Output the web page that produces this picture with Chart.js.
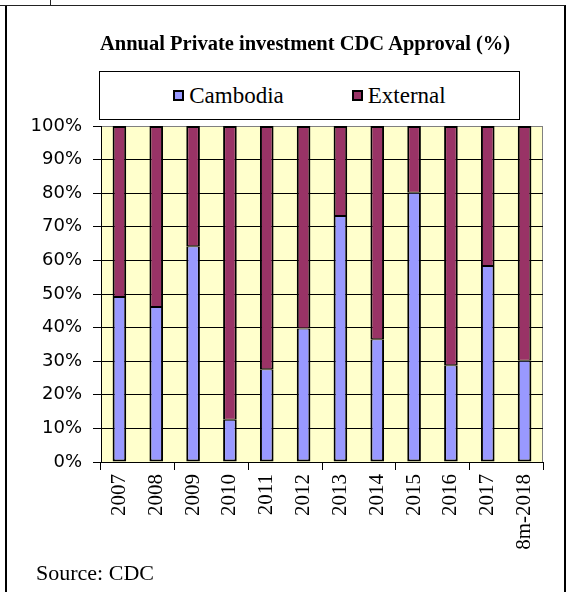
<!DOCTYPE html>
<html>
<head>
<meta charset="utf-8">
<title>Annual Private investment CDC Approval</title>
<script src="https://cdn.jsdelivr.net/npm/chart.js@4.4.0/dist/chart.umd.min.js"></script>
<style>
  html, body { margin: 0; padding: 0; background: #fff; }
  body { position: relative; width: 570px; height: 592px; overflow: hidden; font-family: "Liberation Serif", "Times New Roman", serif; color: #000; }
  .frame { position: absolute; left: 5px; top: 5px; width: 557px; height: 620px; border-top: 1px solid #222; border-left: 2px solid #000; border-right: 2px solid #000; }
  .top-line { position: absolute; left: 0; top: 5px; width: 6px; border-top: 1px solid #222; }
  .notch { position: absolute; left: 50px; top: 0; height: 5px; border-left: 1px solid #222; }
  .chart-wrap { position: absolute; left: 0; top: 0; width: 570px; height: 592px; }
  .title { position: absolute; left: 100px; width: 408px; top: 31px; text-align: center; font-size: 20.5px; line-height: 24px; font-weight: bold; white-space: nowrap; }
  .legend { position: absolute; left: 99px; top: 71px; width: 421px; height: 49px; box-sizing: border-box; border: 1px solid #000; background: #fff; display: flex; align-items: center; justify-content: center; font-size: 23px; }
  .legend .item { display: flex; align-items: center; }
  .legend .item + .item { margin-left: 68px; }
  .legend .swatch { width: 11px; height: 11px; box-sizing: border-box; border: 2px solid #000; margin-right: 5px; }
  .source { position: absolute; left: 36px; top: 562px; font-size: 22px; line-height: 22px; }
</style>
</head>
<body>
<div class="frame"></div>
<div class="top-line"></div>
<div class="notch"></div>
<div class="chart-wrap"><canvas id="chart"></canvas></div>
<div class="title">Annual Private investment CDC Approval (%)</div>
<div class="legend" id="legend"></div>
<div class="source">Source: CDC</div>
<script>
  // Data (share of approved investment, %)
  const years = ["2007", "2008", "2009", "2010", "2011", "2012", "2013", "2014", "2015", "2016", "2017", "8m-2018"]
  const cambodia = [49.1, 46.1, 64.2, 12.6, 27.6, 39.7, 73.2, 36.5, 80.1, 28.8, 58.3, 30.1]
  const external = [50.9, 53.9, 35.8, 87.4, 72.4, 60.3, 26.8, 63.5, 19.9, 71.2, 41.7, 69.9]
  const seriesNames = ["Cambodia", "External"]
  const seriesColors = ["#9999FF", "#993366"]
  // thinner inner edge so the two stacked segments share one ~2px line
  const seriesBorders = [
    { left: 2, right: 2, bottom: 2, top: 1 },
    { left: 2, right: 2, bottom: 1, top: 2 },
  ]

  // Light yellow plot area with grey frame
  const plotBackground = {
    id: "plotBackground",
    beforeDraw(chart) {
      const { ctx, chartArea: a } = chart
      ctx.save()
      ctx.fillStyle = "#FFFFCC"
      ctx.fillRect(a.left, a.top, a.width, a.height)
      ctx.strokeStyle = "#808080"
      ctx.lineWidth = 1
      ctx.strokeRect(a.left + 0.5, a.top + 0.5, a.width - 1, a.height)
      ctx.restore()
    },
  }

  const ctx = document.getElementById("chart").getContext("2d")
  const chart = new Chart(ctx, {
    type: "bar",
    data: {
      labels: years,
      datasets: [cambodia, external].map((values, i) => ({
        label: seriesNames[i],
        data: values,
        backgroundColor: seriesColors[i],
        borderColor: "#000",
        borderWidth: seriesBorders[i],
        borderSkipped: false,
        barPercentage: 0.37,
        categoryPercentage: 1,
      })),
    },
    options: {
      responsive: true,
      maintainAspectRatio: false,
      animation: false,
      layout: {
        padding: { left: 0, right: 27, top: 126, bottom: 0 },
      },
      scales: {
        x: {
          stacked: true,
          border: { color: "#000", width: 1 },
          grid: {
            offset: true,
            drawOnChartArea: false,
            tickLength: 8,
            // a tick mark every second category
            tickColor: (c) => (c.index === undefined || c.index % 2 === 0 ? "#000" : "rgba(0,0,0,0)"),
          },
          ticks: {
            autoSkip: false,
            minRotation: 90,
            maxRotation: 90,
            padding: 4,
            color: "#000",
            font: { family: "Liberation Serif", size: 21 },
          },
          afterFit: (scale) => {
            scale.height = 130
          },
        },
        y: {
          stacked: true,
          min: 0,
          max: 100,
          border: { color: "#000", width: 1 },
          grid: {
            color: (c) => (c.tick && c.tick.value === 100 ? "#808080" : "#000"),
            tickLength: 8,
            tickColor: "#000",
          },
          ticks: {
            stepSize: 10,
            padding: 11,
            color: "#000",
            font: { family: "DejaVu Sans", size: 18 },
            callback: (value) => value + "%",
          },
          afterFit: (scale) => {
            scale.width = 101
          },
        },
      },
      plugins: {
        legend: { display: false },
        tooltip: { enabled: false },
      },
    },
    plugins: [plotBackground],
  })

  // Boxed legend above the plot
  const legendBox = document.getElementById("legend")
  chart.data.datasets.forEach((ds) => {
    const item = document.createElement("span")
    item.className = "item"
    const swatch = document.createElement("span")
    swatch.className = "swatch"
    swatch.style.background = ds.backgroundColor
    item.appendChild(swatch)
    item.appendChild(document.createTextNode(ds.label))
    legendBox.appendChild(item)
  })
</script>
</body>
</html>
